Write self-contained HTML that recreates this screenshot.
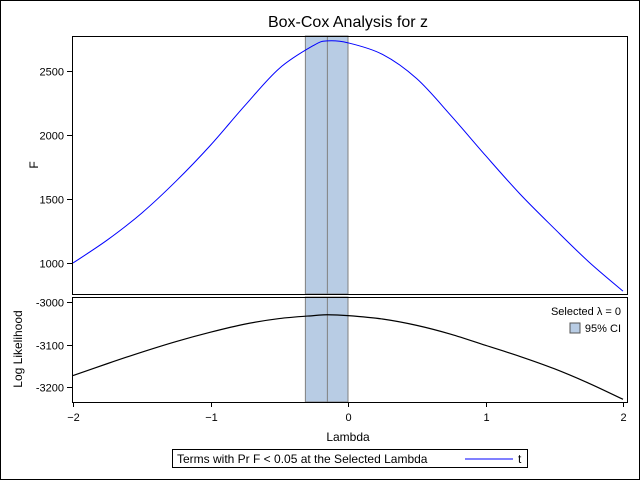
<!DOCTYPE html>
<html><head><meta charset="utf-8"><style>
body{margin:0;background:#fff}
svg text{font-family:"Liberation Sans",sans-serif;fill:#000}
</style></head><body>
<svg id="chart" width="640" height="480" xmlns="http://www.w3.org/2000/svg">
<rect x="0.5" y="0.5" width="639" height="479" fill="#fff" stroke="#000"/>
<text x="348" y="27" font-size="16" text-anchor="middle">Box-Cox Analysis for z</text>
<g id="g"></g>
<text x="348" y="441" font-size="12" text-anchor="middle">Lambda</text>
<text x="0" y="0" font-size="12" text-anchor="middle" transform="translate(38,165) rotate(-90)">F</text>
<text x="0" y="0" font-size="12" text-anchor="middle" transform="translate(22,349) rotate(-90)">Log Likelihood</text>
<text x="621" y="315" font-size="11" text-anchor="end">Selected λ = 0</text>
<rect x="570" y="323" width="10" height="10" fill="#b8cce4" stroke="#555"/>
<text x="621" y="332" font-size="11" text-anchor="end">95% CI</text>
<g>
<rect x="172.5" y="449.5" width="355" height="18" fill="#fff" stroke="#000"/>
<text x="177" y="463" font-size="12">Terms with Pr F &lt; 0.05 at the Selected Lambda</text>
<line x1="465" y1="459" x2="513" y2="459" stroke="#0000ff"/>
<text x="518" y="463" font-size="12">t</text>
</g>
</svg>
<script>
const lambdas=[-2,-1.75,-1.5,-1.25,-1,-0.75,-0.5,-0.25,-0.15,0,0.25,0.5,0.75,1,1.25,1.5,1.75,2];
const fValues=[1000,1180,1390,1640,1920,2230,2520,2700,2735,2720,2630,2440,2150,1840,1540,1270,1010,780];
const llValues=[-3173,-3145,-3118,-3093,-3071,-3052,-3039,-3032,-3030,-3032,-3040,-3055,-3076,-3102,-3128,-3157,-3191,-3229];
const xTicks=[-2,-1,0,1,2];
const fTicks=[1000,1500,2000,2500];
const llTicks=[-3000,-3100,-3200];
const ciLow=-0.31, ciHigh=0, selLambda=-0.15;
const NS='http://www.w3.org/2000/svg';
const g=document.getElementById('g');
const X=v=>73+(v+2)*137.5;
const YF=v=>135-(v-2000)*64/500;
const YL=v=>302-(v+3000)*0.425;
function mk(t,a,p){const e=document.createElementNS(NS,t);for(const k in a)e.setAttribute(k,a[k]);(p||g).appendChild(e);return e;}
function spline(pts){
 let d='M'+pts[0][0]+','+pts[0][1];
 for(let i=0;i<pts.length-1;i++){
  const p0=pts[Math.max(0,i-1)],p1=pts[i],p2=pts[i+1],p3=pts[Math.min(pts.length-1,i+2)];
  const c1=[p1[0]+(p2[0]-p0[0])/6,p1[1]+(p2[1]-p0[1])/6];
  const c2=[p2[0]-(p3[0]-p1[0])/6,p2[1]-(p3[1]-p1[1])/6];
  d+=' C'+c1+' '+c2+' '+p2;
 }
 return d;
}
[[36,294],[297,402]].forEach(([t,b])=>{
 const r=mk('rect',{x:X(ciLow),y:t,width:X(ciHigh)-X(ciLow),height:b-t,fill:'#b8cce4',stroke:'#808080'});
 
 
 const l=mk('line',{x1:X(selLambda),x2:X(selLambda),y1:t,y2:b,stroke:'#808080'});
 
 
});
const pf=mk('path',{d:spline(lambdas.map((v,i)=>[X(v),YF(fValues[i])])),fill:'none',stroke:'#0000ff','stroke-width':1});


const pl=mk('path',{d:spline(lambdas.map((v,i)=>[X(v),YL(llValues[i])])),fill:'none',stroke:'#000','stroke-width':1.2});


const f1=mk('rect',{x:72.5,y:36.5,width:555,height:258,fill:'none',stroke:'#000'});


const f2=mk('rect',{x:72.5,y:297.5,width:555,height:105,fill:'none',stroke:'#000'});


fTicks.forEach(v=>{const y=Math.round(YF(v))+0.5;mk('line',{x1:67,x2:72,y1:y,y2:y,stroke:'#000'});
 const t=mk('text',{x:64,y:y+4,'font-size':11,'text-anchor':'end'});t.textContent=v;
 
 });
llTicks.forEach(v=>{const y=Math.round(YL(v))+0.5;mk('line',{x1:67,x2:72,y1:y,y2:y,stroke:'#000'});
 const t=mk('text',{x:64,y:y+4,'font-size':11,'text-anchor':'end'});t.textContent=v;
 
 });
xTicks.forEach(v=>{const x=Math.round(X(v))+0.5;mk('line',{x1:x,x2:x,y1:402,y2:407,stroke:'#000'});
 const t=mk('text',{x:x,y:421,'font-size':11,'text-anchor':'middle'});t.textContent=v<0?'−'+(-v):v;
 
 });
</script>
</body></html>
